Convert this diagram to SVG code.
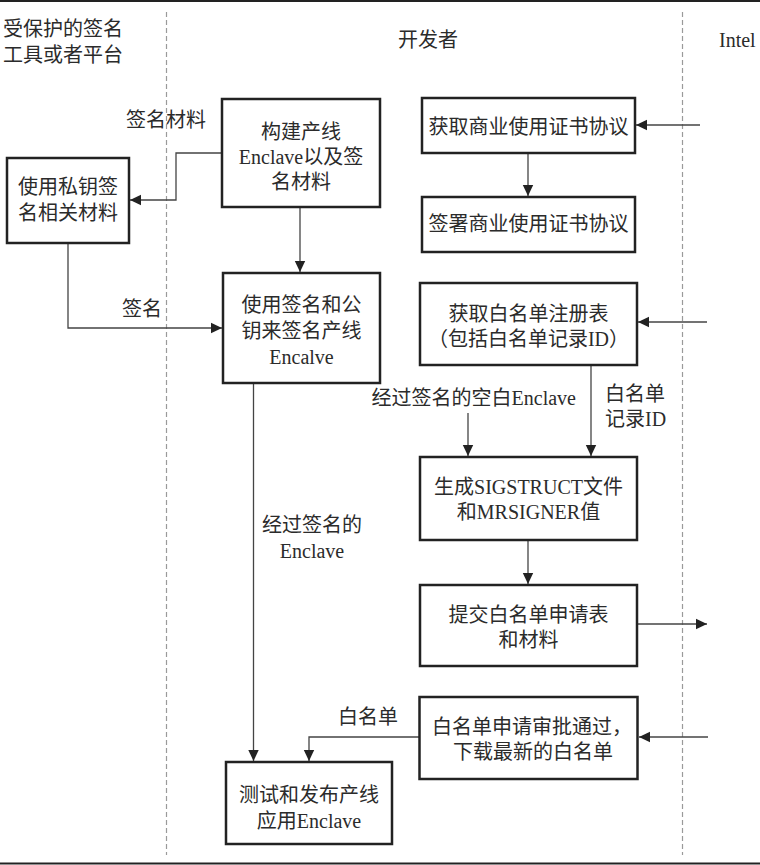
<svg xmlns="http://www.w3.org/2000/svg" width="760" height="865" viewBox="0 0 760 865">
<style>
text{font-family:"Liberation Serif","Noto Sans CJK SC",serif;font-size:20px;fill:#2b2b2b}
.c{text-anchor:middle}
.box{fill:#fff;stroke:#222;stroke-width:2.5}
.ln{fill:none;stroke:#444;stroke-width:1.3}
.dash{stroke:#9a9a9a;stroke-width:1.2;stroke-dasharray:5 3;fill:none}
</style>
<defs>
<marker id="ah" markerUnits="userSpaceOnUse" markerWidth="12" markerHeight="12" viewBox="0 0 12 12" refX="11" refY="6" orient="auto">
<path d="M0,0.8 L11,6 L0,11.2 Z" fill="#222"/>
</marker>
</defs>
<rect width="760" height="865" fill="#fff"/>
<g id="frame">
<line x1="0" y1="1" x2="760" y2="1" stroke="#222" stroke-width="2"/>
<line x1="0" y1="863.5" x2="760" y2="863.5" stroke="#222" stroke-width="2"/>
<line class="dash" x1="166.5" y1="12" x2="166.5" y2="855"/>
<line class="dash" x1="682.5" y1="12" x2="682.5" y2="855"/>
</g>
<g id="headers">
<text x="3" y="36">受保护的签名</text>
<text x="3" y="62">工具或者平台</text>
<text x="398" y="47">开发者</text>
<text x="719" y="47">Intel</text>
</g>
<g id="connectors">
<path class="ln" d="M222,153 H176 V200 H130" marker-end="url(#ah)"/>
<path class="ln" d="M68,243 V328 H222" marker-end="url(#ah)"/>
<path class="ln" d="M300,207 V272" marker-end="url(#ah)"/>
<path class="ln" d="M253.5,383 V761" marker-end="url(#ah)"/>
<path class="ln" d="M528,153 V196" marker-end="url(#ah)"/>
<path class="ln" d="M700,125 H636" marker-end="url(#ah)"/>
<path class="ln" d="M707,322 H638" marker-end="url(#ah)"/>
<path class="ln" d="M591,365 V456" marker-end="url(#ah)"/>
<path class="ln" d="M468,413 V456" marker-end="url(#ah)"/>
<path class="ln" d="M528,540 V584" marker-end="url(#ah)"/>
<path class="ln" d="M637,624 H707" marker-end="url(#ah)"/>
<path class="ln" d="M708,737 H639" marker-end="url(#ah)"/>
<path class="ln" d="M419,737 H309 V761" marker-end="url(#ah)"/>
<text x="126" y="127">签名材料</text>
<text x="122" y="316">签名</text>
<text x="576" y="405" text-anchor="end">经过签名的空白Enclave</text>
<text x="605" y="401">白名单</text>
<text x="605" y="426">记录ID</text>
<text class="c" x="312" y="532">经过签名的</text>
<text class="c" x="312" y="558">Enclave</text>
<text x="338" y="724">白名单</text>
</g>
<g id="nodeA">
<rect class="box" x="222" y="99" width="158" height="108"/>
<text class="c" x="301" y="139">构建产线</text>
<text class="c" x="301" y="164">Enclave以及签</text>
<text class="c" x="301" y="189">名材料</text>
</g>
<g id="nodeB">
<rect class="box" x="7" y="158" width="122" height="85"/>
<text class="c" x="68" y="194">使用私钥签</text>
<text class="c" x="68" y="220">名相关材料</text>
</g>
<g id="nodeC">
<rect class="box" x="223" y="273" width="157" height="110"/>
<text class="c" x="301.5" y="312">使用签名和公</text>
<text class="c" x="301.5" y="338">钥来签名产线</text>
<text class="c" x="301.5" y="364">Encalve</text>
</g>
<g id="nodeD">
<rect class="box" x="422" y="98" width="213" height="55"/>
<text class="c" x="528.5" y="134">获取商业使用证书协议</text>
</g>
<g id="nodeE">
<rect class="box" x="422" y="197" width="213" height="55"/>
<text class="c" x="528.5" y="231">签署商业使用证书协议</text>
</g>
<g id="nodeF">
<rect class="box" x="420" y="283" width="217" height="82"/>
<text class="c" x="528.5" y="321">获取白名单注册表</text>
<text class="c" x="528.5" y="346">（包括白名单记录ID）</text>
</g>
<g id="nodeG">
<rect class="box" x="420" y="457" width="217" height="83"/>
<text class="c" x="528.5" y="494">生成SIGSTRUCT文件</text>
<text class="c" x="528.5" y="519">和MRSIGNER值</text>
</g>
<g id="nodeH">
<rect class="box" x="420" y="585" width="217" height="81"/>
<text class="c" x="528.5" y="622">提交白名单申请表</text>
<text class="c" x="528.5" y="647">和材料</text>
</g>
<g id="nodeJ">
<rect class="box" x="419.5" y="697" width="218" height="82"/>
<text x="432" y="734">白名单申请审批通过，</text>
<text x="453" y="759">下载最新的白名单</text>
</g>
<g id="nodeI">
<rect class="box" x="226" y="762" width="166" height="82"/>
<text class="c" x="309" y="802">测试和发布产线</text>
<text class="c" x="309" y="828">应用Enclave</text>
</g>
</svg>
